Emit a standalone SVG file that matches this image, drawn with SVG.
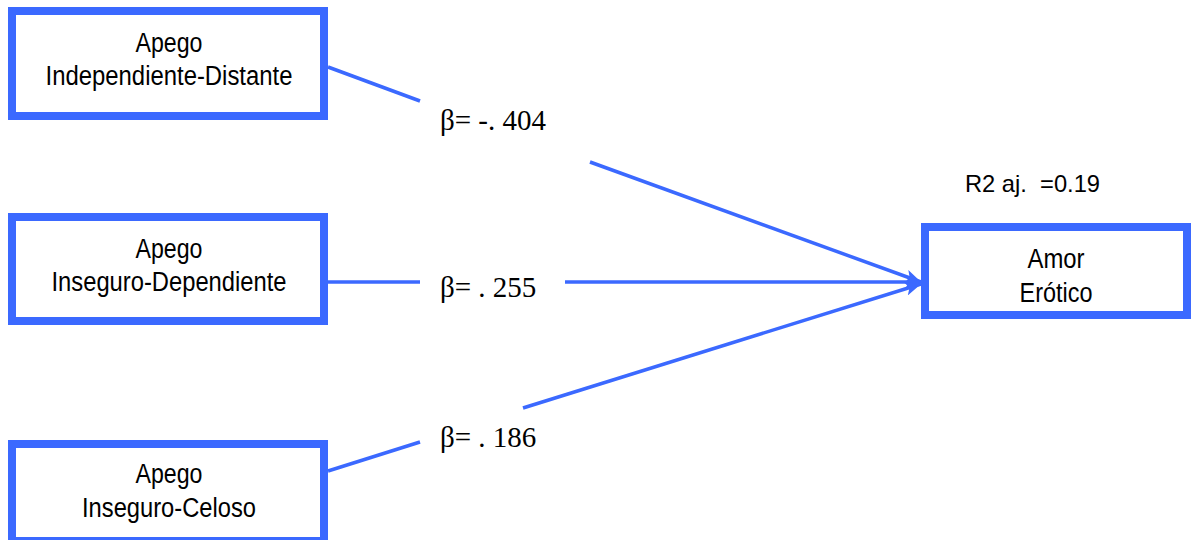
<svg xmlns="http://www.w3.org/2000/svg" width="1191" height="540" viewBox="0 0 1191 540">
<style>
.box{fill:#fff;stroke:#3B69FF;stroke-width:8}
.lbl{font-family:"Liberation Sans",Arial,sans-serif;font-size:27px;fill:#000;text-anchor:middle}
.beta{font-family:"Liberation Serif","Times New Roman",serif;font-size:29px;fill:#000}
.edge{stroke:#3B69FF;stroke-width:3.5;fill:none}
</style>
<defs>
<marker id="arr" markerUnits="userSpaceOnUse" markerWidth="18" markerHeight="14" refX="16" refY="7" orient="auto">
<path d="M0,0 L16,7 L0,14 L4,7 Z" fill="#3B69FF"/>
</marker>
</defs>
<rect width="1191" height="540" fill="#fff"/>
<g id="connectors">
<line class="edge" x1="328" y1="67" x2="420" y2="101"/>
<line class="edge" x1="590" y1="162" x2="921" y2="282" marker-end="url(#arr)"/>
<line class="edge" x1="328" y1="282" x2="420" y2="282"/>
<line class="edge" x1="565" y1="282" x2="921" y2="282" marker-end="url(#arr)"/>
<line class="edge" x1="328" y1="471" x2="420" y2="442"/>
<line class="edge" x1="523" y1="408" x2="921" y2="284" marker-end="url(#arr)"/>
<text class="beta" x="440" y="130">β= -. 404</text>
<text class="beta" x="440" y="297">β= . 255</text>
<text class="beta" x="440" y="447">β= . 186</text>
</g>
<g id="node-independiente">
<rect class="box" x="12" y="11" width="312" height="105"/>
<text class="lbl" x="169" y="52" textLength="67" lengthAdjust="spacingAndGlyphs">Apego</text>
<text class="lbl" x="169" y="85" textLength="247" lengthAdjust="spacingAndGlyphs">Independiente-Distante</text>
</g>
<g id="node-dependiente">
<rect class="box" x="12" y="217" width="312" height="104"/>
<text class="lbl" x="169" y="258" textLength="67" lengthAdjust="spacingAndGlyphs">Apego</text>
<text class="lbl" x="169" y="291" textLength="235" lengthAdjust="spacingAndGlyphs">Inseguro-Dependiente</text>
</g>
<g id="node-celoso">
<rect class="box" x="12" y="444" width="312" height="97"/>
<text class="lbl" x="169" y="483" textLength="67" lengthAdjust="spacingAndGlyphs">Apego</text>
<text class="lbl" x="169" y="517" textLength="174" lengthAdjust="spacingAndGlyphs">Inseguro-Celoso</text>
</g>
<g id="node-amor">
<rect class="box" x="925" y="227" width="262" height="88"/>
<text class="lbl" x="1056" y="268" textLength="57" lengthAdjust="spacingAndGlyphs">Amor</text>
<text class="lbl" x="1056" y="302" textLength="73" lengthAdjust="spacingAndGlyphs">Erótico</text>
</g>
<g id="r2">
<text x="965" y="192" font-family="'Liberation Sans',Arial,sans-serif" font-size="24" fill="#000" textLength="135" lengthAdjust="spacingAndGlyphs" xml:space="preserve">R2 aj.  =0.19</text>
</g>
</svg>
